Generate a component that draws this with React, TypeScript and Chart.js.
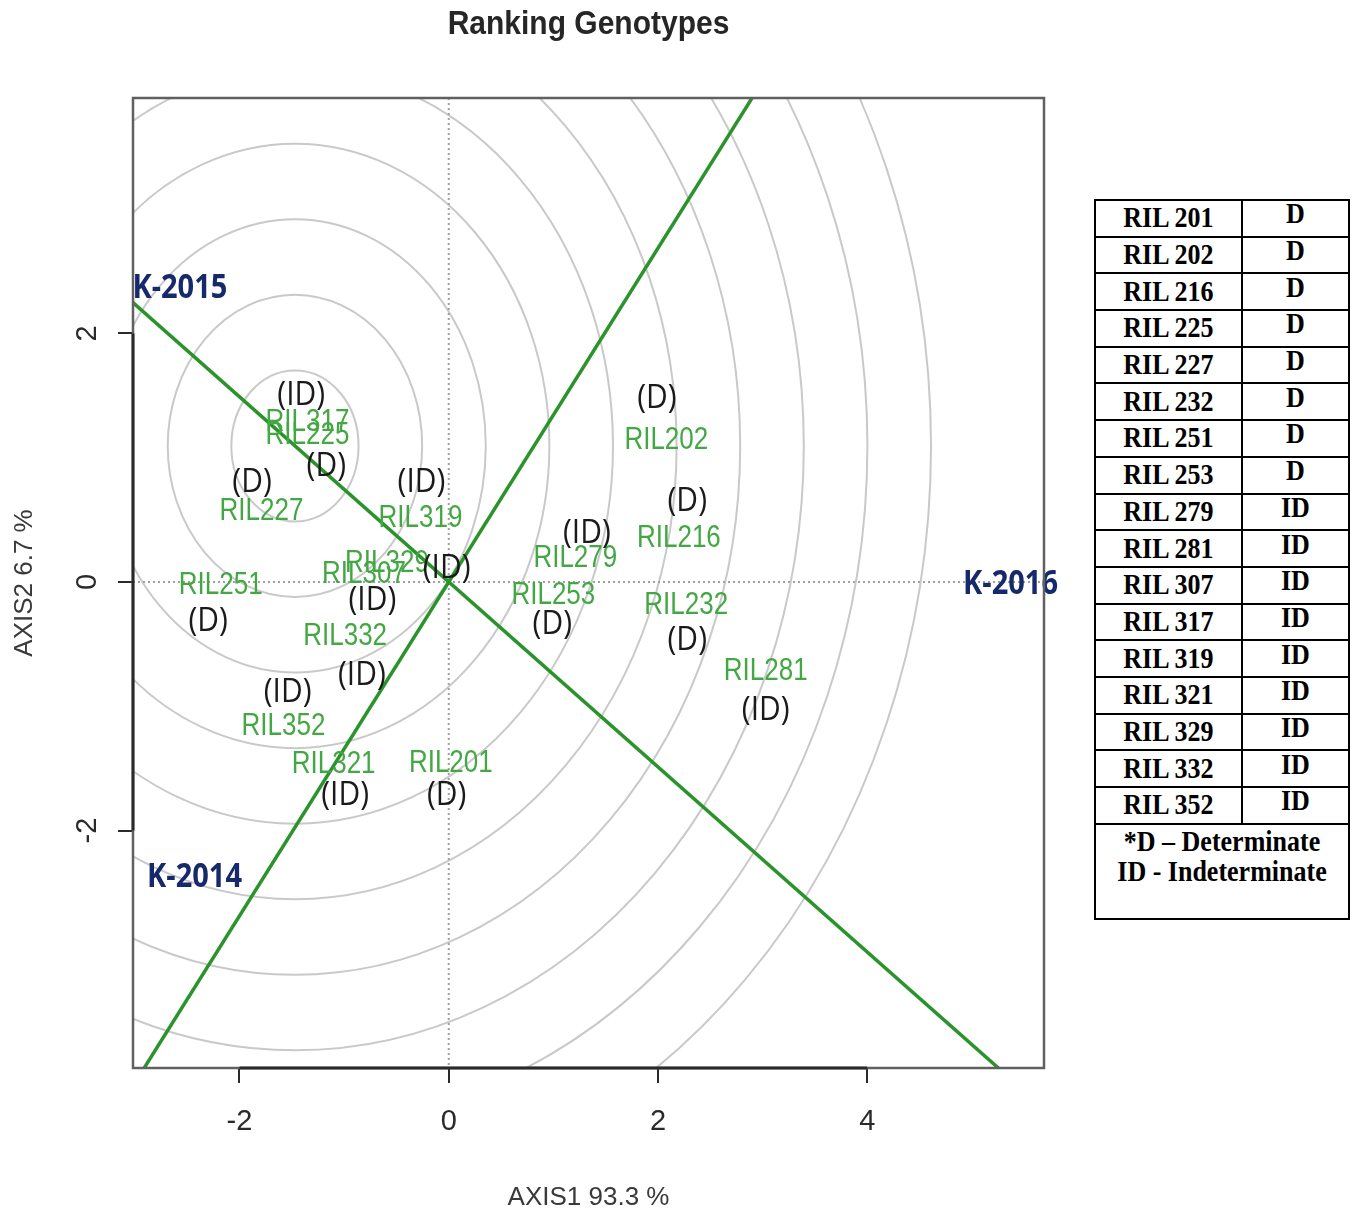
import React, { useEffect, useRef } from 'react';
import { Chart, registerables } from 'chart.js';

Chart.register(...registerables);

// ---------- data ----------
const chartTitle = 'Ranking Genotypes';
const xAxisTitle = 'AXIS1 93.3 %';
const yAxisTitle = 'AXIS2 6.7 %';

const xMin = -3.018;
const xMax = 5.69;
const yMin = -3.911;
const yMax = 3.895;
const xTickValues = [-2, 0, 2, 4];
const yTickValues = [-2, 0, 2];

const genotypeNames = ['RIL317', 'RIL225', 'RIL227', 'RIL319', 'RIL329', 'RIL307', 'RIL251', 'RIL332', 'RIL352', 'RIL321', 'RIL201', 'RIL202', 'RIL216', 'RIL279', 'RIL253', 'RIL232', 'RIL281'];
const genotypeX = [-1.35, -1.35, -1.79, -0.27, -0.59, -0.81, -2.18, -0.99, -1.58, -1.10, 0.02, 2.08, 2.20, 1.21, 1.00, 2.27, 3.03];
const genotypeY = [1.28, 1.175, 0.57, 0.51, 0.15, 0.06, -0.03, -0.44, -1.16, -1.47, -1.46, 1.14, 0.35, 0.185, -0.105, -0.19, -0.72];

const typeText = ['(ID)', '(D)', '(D)', '(ID)', '(ID)', '(ID)', '(D)', '(ID)', '(ID)', '(ID)', '(D)', '(D)', '(D)', '(ID)', '(D)', '(D)', '(ID)'];
const typeX = [-1.41, -1.17, -1.88, -0.26, -0.02, -0.73, -2.30, -0.83, -1.54, -0.99, -0.02, 1.99, 2.28, 1.32, 0.99, 2.28, 3.03];
const typeY = [1.50, 0.93, 0.80, 0.80, 0.11, -0.15, -0.32, -0.75, -0.89, -1.72, -1.72, 1.48, 0.65, 0.39, -0.34, -0.47, -1.03];

const envNames = ['K-2015', 'K-2016', 'K-2014'];
const envX = [-2.57, 5.37, -2.43];
const envY = [2.36, -0.02, -2.38];

// average environment axis and its perpendicular
const aeaX = [-3.1, 5.4];
const aeaY = [2.31, -4.02];
const atcX = [-3.0, 3.0];
const atcY = [-4.03, 4.03];

// concentric circles
const circleCenterX = -1.47;
const circleCenterY = 1.095;
const circleRadii = [0.608, 1.216, 1.824, 2.432, 3.04, 3.648, 4.256, 4.864, 5.472, 6.08];

// table
const tableGenotypes = ['RIL 201', 'RIL 202', 'RIL 216', 'RIL 225', 'RIL 227', 'RIL 232', 'RIL 251', 'RIL 253', 'RIL 279', 'RIL 281', 'RIL 307', 'RIL 317', 'RIL 319', 'RIL 321', 'RIL 329', 'RIL 332', 'RIL 352'];
const tableTypes = ['D', 'D', 'D', 'D', 'D', 'D', 'D', 'D', 'ID', 'ID', 'ID', 'ID', 'ID', 'ID', 'ID', 'ID', 'ID'];
const tableNotes = ['*D \u2013 Determinate', 'ID - Indeterminate'];

// ---------- helpers ----------
const drawStretched = (
  ctx: CanvasRenderingContext2D,
  text: string,
  x: number,
  y: number,
  font: string,
  color: string,
  sy: number,
  align: CanvasTextAlign = 'center',
  baseline: CanvasTextBaseline = 'middle'
) => {
  ctx.save();
  ctx.translate(x, y);
  ctx.scale(1, sy);
  ctx.font = font;
  ctx.fillStyle = color;
  ctx.textAlign = align;
  ctx.textBaseline = baseline;
  ctx.fillText(text, 0, 0);
  ctx.restore();
};

const biplotPlugin = {
  id: 'biplot',
  beforeDatasetsDraw(chart: any) {
    const { ctx, chartArea: a, scales } = chart;
    const xs = scales.x;
    const ys = scales.y;
    ctx.save();
    ctx.beginPath();
    ctx.rect(a.left, a.top, a.right - a.left, a.bottom - a.top);
    ctx.clip();
    const cx = xs.getPixelForValue(circleCenterX);
    const cy = ys.getPixelForValue(circleCenterY);
    ctx.strokeStyle = '#c9c9c9';
    ctx.lineWidth = 2;
    circleRadii.forEach((r) => {
      const rx = xs.getPixelForValue(circleCenterX + r) - cx;
      const ry = cy - ys.getPixelForValue(circleCenterY + r);
      ctx.beginPath();
      ctx.ellipse(cx, cy, rx, ry, 0, 0, Math.PI * 2);
      ctx.stroke();
    });
    const x0 = xs.getPixelForValue(0);
    const y0 = ys.getPixelForValue(0);
    ctx.setLineDash([2, 3]);
    ctx.strokeStyle = '#a0a0a0';
    ctx.lineWidth = 2;
    ctx.beginPath();
    ctx.moveTo(x0, a.top);
    ctx.lineTo(x0, a.bottom);
    ctx.moveTo(a.left, y0);
    ctx.lineTo(a.right, y0);
    ctx.stroke();
    ctx.restore();
  },
  afterDatasetsDraw(chart: any) {
    const { ctx } = chart;
    const gMeta = chart.getDatasetMeta(2);
    gMeta.data.forEach((el: any, i: number) => {
      drawStretched(ctx, genotypeNames[i], el.x, el.y, '26px "Liberation Sans", Arial, sans-serif', '#43a743', 1.18);
    });
    const tMeta = chart.getDatasetMeta(3);
    tMeta.data.forEach((el: any, i: number) => {
      drawStretched(ctx, typeText[i], el.x, el.y, '30px "Open Sans", "Liberation Sans", sans-serif', '#1a1a1a', 1.12);
    });
    const eMeta = chart.getDatasetMeta(4);
    eMeta.data.forEach((el: any, i: number) => {
      drawStretched(ctx, envNames[i], el.x, el.y, 'bold 29px "Open Sans", "Liberation Sans", sans-serif', '#16296a', 1.15);
    });
  },
  afterDraw(chart: any) {
    const { ctx, chartArea: a, scales } = chart;
    const xs = scales.x;
    const ys = scales.y;
    ctx.save();
    ctx.strokeStyle = '#606060';
    ctx.lineWidth = 2.5;
    ctx.strokeRect(a.left, a.top, a.right - a.left, a.bottom - a.top);
    ctx.strokeStyle = '#2a2a2a';
    ctx.lineWidth = 3;
    ctx.beginPath();
    ctx.moveTo(xs.getPixelForValue(xTickValues[0]), a.bottom);
    ctx.lineTo(xs.getPixelForValue(xTickValues[xTickValues.length - 1]), a.bottom);
    ctx.moveTo(a.left, ys.getPixelForValue(yTickValues[0]));
    ctx.lineTo(a.left, ys.getPixelForValue(yTickValues[yTickValues.length - 1]));
    ctx.stroke();
    ctx.restore();
    drawStretched(ctx, chartTitle, (a.left + a.right) / 2, 34, 'bold 30px "Liberation Sans", Arial, sans-serif', '#262626', 1.12, 'center', 'alphabetic');
  },
};

export default function App() {
  const ref = useRef<HTMLCanvasElement>(null);

  useEffect(() => {
    if (!ref.current) return;
    const chart = new Chart(ref.current, {
      type: 'scatter',
      data: {
        datasets: [
          {
            type: 'line',
            label: 'AEA',
            data: aeaX.map((x, i) => ({ x, y: aeaY[i] })),
            borderColor: '#2b932b',
            borderWidth: 3.5,
            pointRadius: 0,
            fill: false,
          },
          {
            type: 'line',
            label: 'ATC',
            data: atcX.map((x, i) => ({ x, y: atcY[i] })),
            borderColor: '#2b932b',
            borderWidth: 3.5,
            pointRadius: 0,
            fill: false,
          },
          {
            label: 'Genotypes',
            data: genotypeX.map((x, i) => ({ x, y: genotypeY[i] })),
            pointRadius: 0,
            showLine: false,
          },
          {
            label: 'Type',
            data: typeX.map((x, i) => ({ x, y: typeY[i] })),
            pointRadius: 0,
            showLine: false,
          },
          {
            label: 'Environments',
            data: envX.map((x, i) => ({ x, y: envY[i] })),
            pointRadius: 0,
            showLine: false,
            clip: false as any,
          },
        ],
      },
      options: {
        animation: false,
        responsive: false,
        devicePixelRatio: 1,
        events: [],
        layout: { padding: { top: 98, right: 46, left: 0, bottom: 0 } },
        plugins: {
          legend: { display: false },
          tooltip: { enabled: false },
          title: { display: false },
        },
        scales: {
          x: {
            type: 'linear',
            min: xMin,
            max: xMax,
            afterBuildTicks: (scale: any) => {
              scale.ticks = xTickValues.map((v) => ({ value: v }));
            },
            afterFit: (scale: any) => {
              scale.height = 147;
            },
            grid: { drawOnChartArea: false, drawTicks: true, tickLength: 15, color: '#2a2a2a', lineWidth: 2 },
            border: { display: false },
            ticks: {
              color: '#2a2a2a',
              padding: 22,
              font: { size: 29, family: '"Liberation Sans", Arial, sans-serif' },
              callback: (v: any) => String(v),
            },
            title: {
              display: true,
              text: xAxisTitle,
              color: '#3a3a3a',
              font: { size: 26, family: '"Liberation Sans", Arial, sans-serif' },
              padding: { top: 0, bottom: 2 },
            },
          },
          y: {
            type: 'linear',
            min: yMin,
            max: yMax,
            afterBuildTicks: (scale: any) => {
              scale.ticks = yTickValues.map((v) => ({ value: v }));
            },
            afterFit: (scale: any) => {
              scale.width = 133;
            },
            grid: { drawOnChartArea: false, drawTicks: true, tickLength: 15, color: '#2a2a2a', lineWidth: 2 },
            border: { display: false },
            ticks: {
              color: '#2a2a2a',
              padding: 17,
              minRotation: 90,
              maxRotation: 90,
              crossAlign: 'center',
              font: { size: 29, family: '"Liberation Sans", Arial, sans-serif' },
              callback: (v: any) => String(v),
            },
            title: {
              display: true,
              text: yAxisTitle,
              color: '#3a3a3a',
              font: { size: 26, family: '"Liberation Sans", Arial, sans-serif' },
              padding: { top: 9, bottom: 0 },
            },
          },
        },
      } as any,
      plugins: [biplotPlugin],
    });
    return () => chart.destroy();
  }, []);

  const cellBase: React.CSSProperties = {
    border: '2px solid #000',
    padding: 0,
    textAlign: 'center',
    verticalAlign: 'middle',
  };
  const stretch: React.CSSProperties = { display: 'inline-block', transform: 'scaleY(1.15)' };

  return (
    <div style={{ position: 'absolute', left: 0, top: 0, width: 1357, height: 1215, background: '#ffffff' }}>
      <canvas ref={ref} width={1090} height={1215} style={{ position: 'absolute', left: 0, top: 0, width: 1090, height: 1215 }} />
      <table
        style={{
          position: 'absolute',
          left: 1094,
          top: 199,
          width: 256,
          borderCollapse: 'collapse',
          fontFamily: '"Liberation Serif", "Times New Roman", serif',
          fontWeight: 'bold',
          fontSize: 26,
          color: '#000',
          lineHeight: '30px',
        }}
      >
        <tbody>
          {tableGenotypes.map((g, i) => (
            <tr key={g} style={{ height: 36.7 }}>
              <td style={{ ...cellBase, width: 146 }}>
                <span style={stretch}>{g}</span>
              </td>
              <td style={{ ...cellBase, width: 106 }}>
                <span style={{ ...stretch, position: 'relative', top: -4 }}>{tableTypes[i]}</span>
              </td>
            </tr>
          ))}
          <tr style={{ height: 95 }}>
            <td colSpan={2} style={{ ...cellBase, verticalAlign: 'top', paddingTop: 2 }}>
              {tableNotes.map((n) => (
                <div key={n} style={{ height: 30 }}>
                  <span style={stretch}>{n}</span>
                </div>
              ))}
            </td>
          </tr>
        </tbody>
      </table>
    </div>
  );
}
